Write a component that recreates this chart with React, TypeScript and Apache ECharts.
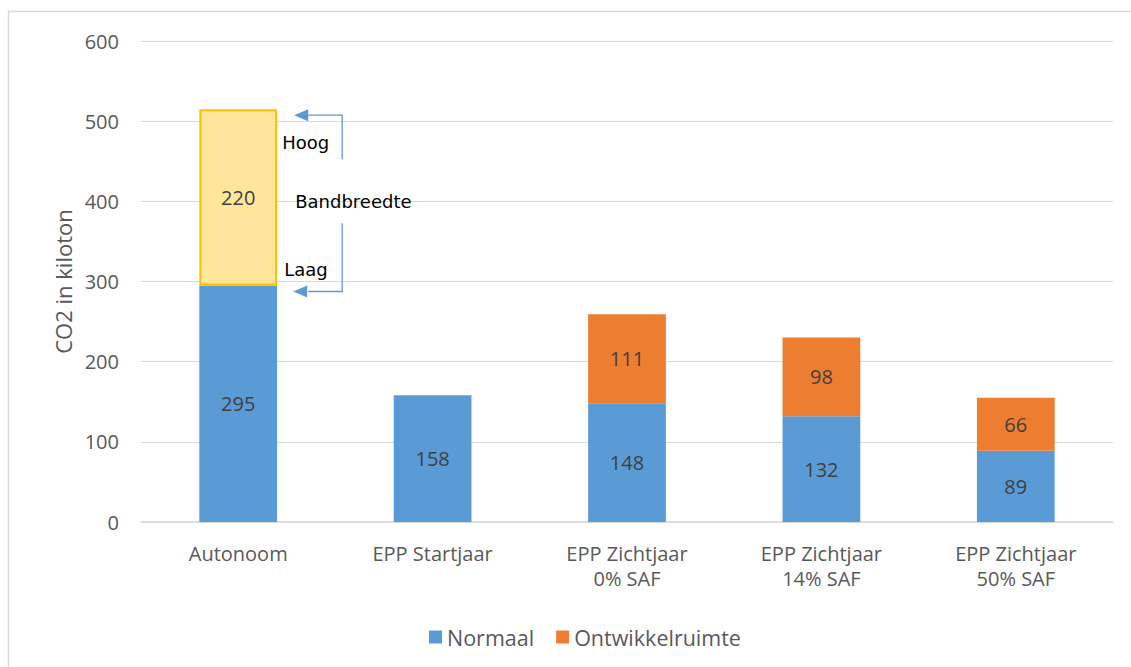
import React, { useEffect, useRef } from "react";
import * as echarts from "echarts";

const categories = ["Autonoom", "EPP Startjaar", "EPP Zichtjaar\n0% SAF", "EPP Zichtjaar\n14% SAF", "EPP Zichtjaar\n50% SAF"];
const normaal = [295, 158, 148, 132, 89];
const ontwikkelruimte: (number | null)[] = [null, null, 111, 98, 66];
const bandbreedte: (number | null)[] = [220, null, null, null, null];
const yTicks = { min: 0, max: 600, interval: 100 };

const FONT = "'Open Sans', sans-serif";
const ANNO_FONT = "'DejaVu Sans', sans-serif";
const ARROW = "#5B9BD5";

export default function App() {
  const ref = useRef<HTMLDivElement>(null);
  useEffect(() => {
    if (!ref.current) return;
    const chart = echarts.init(ref.current, undefined, { renderer: "svg" });
    const label = {
      show: true,
      position: "inside",
      color: "#404040",
      fontSize: 20,
      fontFamily: FONT,
    };
    chart.setOption({
      animation: false,
      textStyle: { fontFamily: FONT },
      grid: { left: 141, right: 18, top: 41, bottom: 145, containLabel: false },
      legend: {
        data: ["Normaal", "Ontwikkelruimte"],
        top: 621,
        left: 424,
        itemWidth: 13,
        itemHeight: 13,
        itemGap: 22,
        icon: "rect",
        textStyle: { color: "#595959", fontSize: 21.5, fontFamily: FONT },
      },
      xAxis: {
        type: "category",
        data: categories,
        axisLine: { lineStyle: { color: "#D9D9D9", width: 1.5 } },
        axisTick: { show: false },
        axisLabel: { color: "#595959", fontSize: 20, fontFamily: FONT, margin: 19, lineHeight: 25 },
      },
      yAxis: {
        type: "value",
        min: yTicks.min,
        max: yTicks.max,
        interval: yTicks.interval,
        name: "CO2 in kiloton",
        nameLocation: "middle",
        nameRotate: 90,
        nameGap: 67,
        nameTextStyle: { color: "#595959", fontSize: 22, fontFamily: FONT },
        axisLine: { show: false },
        axisTick: { show: false },
        axisLabel: { color: "#595959", fontSize: 20, fontFamily: FONT, margin: 22 },
        splitLine: { lineStyle: { color: "#D9D9D9", width: 1 } },
      },
      series: [
        {
          name: "Normaal",
          type: "bar",
          stack: "a",
          barWidth: "40%",
          data: normaal,
          itemStyle: { color: "#5B9BD5" },
          label,
        },
        {
          name: "Ontwikkelruimte",
          type: "bar",
          stack: "a",
          data: ontwikkelruimte,
          itemStyle: { color: "#ED7D31" },
          label,
        },
        {
          name: "Bandbreedte",
          type: "bar",
          stack: "a",
          data: bandbreedte,
          itemStyle: { color: "#FFE699", borderColor: "#FFC000", borderWidth: 2 },
          label,
        },
      ],
    });

    const low = normaal[0];
    const high = normaal[0] + (bandbreedte[0] as number);
    const [cx, yHigh] = chart.convertToPixel({ gridIndex: 0 }, [0, high]) as number[];
    const [, yLow] = chart.convertToPixel({ gridIndex: 0 }, [0, low]) as number[];
    const tip = cx + 56;
    const vx = cx + 104;
    const head = 14;
    const mid = (yHigh + yLow) / 2;
    chart.setOption({
      graphic: [
        {
          type: "rect",
          shape: { x: 8.5, y: 11.5, width: 1130, height: 660 },
          style: { fill: "none", stroke: "#D9D9D9", lineWidth: 1.5 },
          silent: true,
        },
        {
          type: "polyline",
          shape: { points: [[vx, mid - 38], [vx, yHigh + 6], [tip + head, yHigh + 6]] },
          style: { stroke: ARROW, lineWidth: 1.3, fill: "none" },
        },
        {
          type: "polygon",
          shape: { points: [[tip, yHigh + 6], [tip + head, yHigh], [tip + head, yHigh + 12]] },
          style: { fill: ARROW },
        },
        {
          type: "polyline",
          shape: { points: [[vx, mid + 26], [vx, yLow + 6], [tip + head, yLow + 6]] },
          style: { stroke: ARROW, lineWidth: 1.3, fill: "none" },
        },
        {
          type: "polygon",
          shape: { points: [[tip - 1, yLow + 6], [tip + head - 1, yLow], [tip + head - 1, yLow + 12]] },
          style: { fill: ARROW },
        },
        {
          type: "text",
          x: cx + 44,
          y: yHigh + 33,
          style: { text: "Hoog", fill: "#000", fontSize: 18, fontFamily: ANNO_FONT, textVerticalAlign: "middle" },
        },
        {
          type: "text",
          x: cx + 57,
          y: mid + 4,
          style: { text: "Bandbreedte", fill: "#000", fontSize: 18, fontFamily: ANNO_FONT, textVerticalAlign: "middle" },
        },
        {
          type: "text",
          x: cx + 46,
          y: yLow - 16,
          style: { text: "Laag", fill: "#000", fontSize: 18, fontFamily: ANNO_FONT, textVerticalAlign: "middle" },
        },
      ],
    });

    return () => chart.dispose();
  }, []);
  return (
    <div
      ref={ref}
      style={{ position: "fixed", left: 0, top: 0, width: 1131, height: 667, background: "#fff" }}
    />
  );
}
